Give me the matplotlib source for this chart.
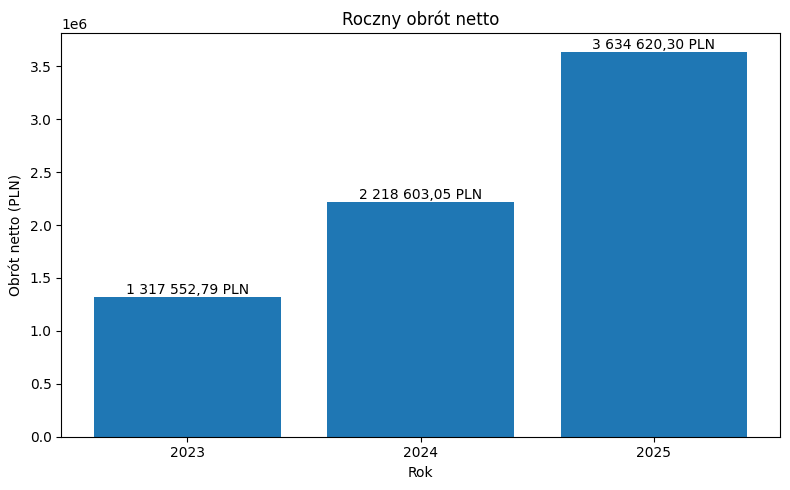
import matplotlib
matplotlib.use("Agg")
import matplotlib.pyplot as plt

years = ["2023", "2024", "2025"]
turnover = [1317552.79, 2218603.05, 3634620.30]


def fmt_pln(v):
    s = f"{v:,.2f}"
    s = s.replace(",", " ").replace(".", ",")
    return s + " PLN"


fig, ax = plt.subplots(figsize=(8, 5), dpi=100)

bars = ax.bar(years, turnover, color="#1f77b4")
ax.bar_label(bars, labels=[fmt_pln(v) for v in turnover])

ax.set_title("Roczny obrót netto")
ax.set_xlabel("Rok")
ax.set_ylabel("Obrót netto (PLN)")

fig.tight_layout()
fig.savefig("out.png", bbox_inches="tight")
